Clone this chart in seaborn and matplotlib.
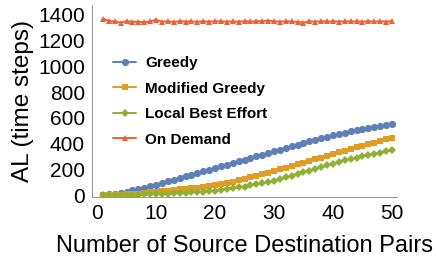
import numpy as np
import pandas as pd
import matplotlib
matplotlib.use("Agg")
import matplotlib.pyplot as plt
import seaborn as sns

pairs = list(range(1, 51))
greedy = [2, 6, 12, 19, 27, 36, 46, 57, 69, 82,
          94, 107, 119, 132, 145, 158, 171, 184, 197, 210,
          223, 236, 249, 262, 275, 288, 301, 314, 327, 340,
          353, 366, 379, 392, 405, 417, 429, 441, 453, 465,
          475, 485, 494, 503, 512, 520, 528, 536, 544, 552]
modified_greedy = [0, 1, 2, 4, 6, 9, 12, 16, 20, 25,
                   30, 35, 40, 45, 51, 52, 58, 65, 72, 79,
                   87, 96, 105, 115, 126, 138, 150, 162, 174, 187,
                   200, 213, 226, 239, 252, 265, 278, 291, 304, 320,
                   333, 345, 358, 370, 383, 395, 408, 420, 433, 446]
local_best = [0, 0, 1, 1, 2, 3, 4, 5, 6, 8,
              9, 11, 13, 15, 17, 20, 23, 27, 31, 35,
              40, 46, 52, 59, 66, 75, 84, 93, 102, 111,
              124, 137, 150, 163, 176, 189, 202, 216, 230, 244,
              258, 269, 280, 290, 300, 310, 320, 330, 340, 350]
on_demand = [1372, 1352, 1350, 1340, 1352, 1346, 1348, 1343, 1350, 1362,
             1348, 1350, 1345, 1352, 1348, 1350, 1346, 1350, 1348, 1351,
             1349, 1348, 1350, 1347, 1351, 1349, 1350, 1352, 1356, 1350,
             1348, 1350, 1349, 1346, 1341, 1350, 1348, 1351, 1349, 1350,
             1348, 1351, 1349, 1350, 1348, 1350, 1349, 1351, 1348, 1352]

series_names = ["Greedy", "Modified Greedy", "Local Best Effort", "On Demand"]
series_values = [greedy, modified_greedy, local_best, on_demand]

df = pd.concat([pd.DataFrame({"x": pairs, "y": v, "Method": n})
                for n, v in zip(series_names, series_values)], ignore_index=True)

sns.set_style("white")
plt.rcParams['font.family'] = ['Liberation Sans', 'DejaVu Sans']
plt.rcParams['text.color'] = 'black'
plt.rcParams['axes.labelcolor'] = 'black'
plt.rcParams['xtick.color'] = 'black'
plt.rcParams['ytick.color'] = 'black'

colors = {"Greedy": "#5E81B5", "Modified Greedy": "#E19C24",
          "Local Best Effort": "#8FB032", "On Demand": "#EB6235"}
markers = {"Greedy": "o", "Modified Greedy": "s",
           "Local Best Effort": "D", "On Demand": "^"}
msizes = {"Greedy": 5.2, "Modified Greedy": 4.2,
          "Local Best Effort": 4.4, "On Demand": 4.8}

fig = plt.figure(figsize=(4.36, 2.64), dpi=100)
ax = fig.add_axes([92/436, 1-197/264, 305/436, 192/264])

for n in series_names:
    sub = df[df["Method"] == n]
    sns.lineplot(data=sub, x="x", y="y", ax=ax, color=colors[n], marker=markers[n],
                 markersize=msizes[n], markeredgewidth=0, linewidth=1.4, label=n)

ax.set_xlim(-0.85, 50.85)
ax.set_ylim(-15, 1477)
ax.set_xticks([0, 10, 20, 30, 40, 50])
ax.set_xticks(np.arange(0, 51, 2), minor=True)
ax.set_yticks(np.arange(0, 1401, 200))
ax.set_yticks(np.arange(0, 1451, 100), minor=True)
for s in ["top", "right"]:
    ax.spines[s].set_visible(False)
for s in ["left", "bottom"]:
    ax.spines[s].set_color("#999999")
    ax.spines[s].set_linewidth(0.8)
ax.tick_params(which="major", direction="in", length=4, width=0.8, color="#999999",
               labelsize=15, pad=5, labelcolor="black")
ax.tick_params(which="minor", direction="in", length=2.2, width=0.6, color="#bbbbbb")
ax.set_xlabel("Number of Source Destination Pairs", fontsize=17, labelpad=9, color="black")
ax.set_ylabel("AL (time steps)", fontsize=17.5, labelpad=3, color="black")

leg = ax.legend(loc="upper left", bbox_to_anchor=(0.05, 0.765), frameon=False,
                prop={"weight": "bold", "size": 11}, handlelength=1.5,
                handletextpad=0.6, labelspacing=0.75, borderaxespad=0)
for t in leg.get_texts():
    t.set_color("black")

fig.savefig("out.png", dpi=100)
